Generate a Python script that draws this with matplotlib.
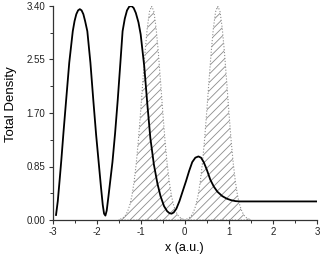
import numpy as np
import matplotlib
matplotlib.use("Agg")
import matplotlib.pyplot as plt
from matplotlib.ticker import MultipleLocator, FormatStrFormatter

plt.rcParams['font.family'] = ['Liberation Sans', 'DejaVu Sans']
plt.rcParams['hatch.linewidth'] = 0.6

# ---------- data ----------
# total density (black line)
dens_x = [-2.92, -2.88, -2.84, -2.80, -2.75, -2.69, -2.62, -2.54, -2.50, -2.46,
          -2.42, -2.38, -2.34, -2.30, -2.26, -2.21, -2.14, -2.075, -2.01, -1.945,
          -1.90, -1.86, -1.83, -1.80, -1.77, -1.73, -1.69, -1.64, -1.58, -1.52,
          -1.46, -1.41, -1.36, -1.31, -1.26, -1.21, -1.16, -1.11, -1.05, -1.00,
          -0.92, -0.85, -0.78, -0.70, -0.62, -0.55, -0.47, -0.40, -0.35, -0.30,
          -0.25, -0.19, -0.12, -0.05, 0.03, 0.10, 0.17, 0.24, 0.31, 0.37,
          0.43, 0.50, 0.58, 0.66, 0.74, 0.85, 0.95, 1.05, 1.15, 1.25,
          3.00]
dens_y = [0.08, 0.30, 0.62, 0.95, 1.40, 1.91, 2.50, 3.00, 3.16, 3.27,
          3.33, 3.35, 3.33, 3.27, 3.16, 3.00, 2.50, 1.91, 1.35, 0.86,
          0.52, 0.24, 0.10, 0.07, 0.15, 0.38, 0.62, 0.92, 1.38, 1.91,
          2.50, 3.00, 3.20, 3.33, 3.39, 3.40, 3.37, 3.29, 3.14, 2.95,
          2.45, 1.85, 1.30, 0.88, 0.58, 0.38, 0.22, 0.14, 0.11, 0.10,
          0.12, 0.18, 0.30, 0.45, 0.62, 0.78, 0.92, 0.99, 1.01, 0.99,
          0.92, 0.80, 0.64, 0.53, 0.45, 0.38, 0.34, 0.315, 0.30, 0.295,
          0.295]

# hatched peaks: centres and one-sided profile (offset from centre, height)
peak_centres = [-0.75, 0.75]
prof_dx = [0.00, 0.05, 0.10, 0.15, 0.20, 0.25, 0.30, 0.35, 0.40, 0.45,
           0.50, 0.55, 0.60, 0.65, 0.70, 0.75]
prof_y = [3.40, 3.31, 3.05, 2.67, 2.21, 1.73, 1.28, 0.90, 0.60, 0.38,
          0.23, 0.13, 0.07, 0.035, 0.017, 0.0]

x_ticks = [-3, -2, -1, 0, 1, 2, 3]
y_ticks = [0.00, 0.85, 1.70, 2.55, 3.40]

# ---------- plot ----------
fig = plt.figure(figsize=(3.21, 2.58), dpi=100)
ax = fig.add_axes([52.5/321, 38/258, (317-52.5)/321, (220-6)/258])

dx = np.array(prof_dx)
py = np.array(prof_y)
for c in peak_centres:
    hx = np.concatenate([c - dx[::-1], c + dx[1:]])
    hy = np.concatenate([py[::-1], py[1:]])
    ax.fill_between(hx, 0, hy, facecolor='none', edgecolor='#8c8c8c',
                    hatch='////', linestyle=':', linewidth=0.8, zorder=1)

ax.plot(dens_x, dens_y, color='black', lw=1.3, zorder=3,
        solid_joinstyle='round')

ax.set_xlim(-3, 3)
ax.set_ylim(0, 3.40)
ax.set_xticks(x_ticks)
ax.set_yticks(y_ticks)
ax.xaxis.set_minor_locator(MultipleLocator(0.5))
ax.yaxis.set_minor_locator(MultipleLocator(0.425))
ax.yaxis.set_major_formatter(FormatStrFormatter('%.2f'))
ax.xaxis.set_major_formatter(FormatStrFormatter('%g'))

for s in ('top', 'right'):
    ax.spines[s].set_visible(False)
for s in ('left', 'bottom'):
    ax.spines[s].set_color('#333333')
    ax.spines[s].set_linewidth(0.9)

ax.tick_params(which='major', direction='out', length=3, width=0.8,
               labelsize=7, colors='#333333', labelcolor='#222222', pad=2)
ax.tick_params(which='minor', direction='out', length=2, width=0.7,
               colors='#333333')

ax.set_xlabel('x (a.u.)', fontsize=9)
ax.set_ylabel('Total Density', fontsize=9.5)
ax.xaxis.set_label_coords(0.5, -0.105)
ax.yaxis.set_label_coords(-0.135, 0.54)

fig.savefig('out.png', dpi=100)
